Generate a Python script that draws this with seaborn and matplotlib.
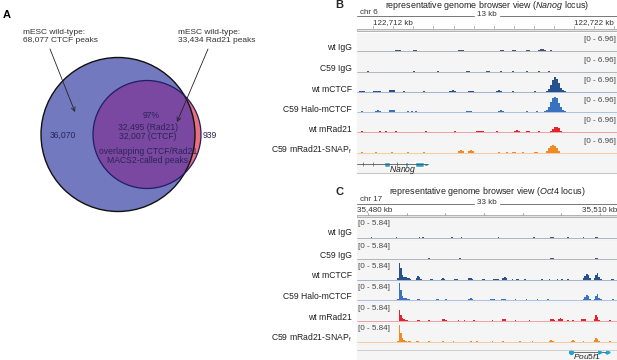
import numpy as np
import pandas as pd
import matplotlib
matplotlib.use("Agg")
import matplotlib.pyplot as plt
from matplotlib.patches import Circle, Rectangle
import seaborn as sns

# ---------------- panel A: Venn diagram text / counts ----------------
ctcf_label = "mESC wild-type:\n68,077 CTCF peaks"
rad21_label = "mESC wild-type:\n33,434 Rad21 peaks"
ctcf_only = "36,070"
rad21_only = "939"
overlap_pct = "97%"
overlap_counts = "32,495 (Rad21)\n32,007 (CTCF)"
overlap_note = "overlapping CTCF/Rad21\nMACS2-called peaks"

# ---------------- browser tracks ----------------
track_names = ["wt IgG", "C59 IgG", "wt mCTCF", "C59 Halo-mCTCF", "wt mRad21",
               r"C59 mRad21-SNAP$_{\rm f}$"]
track_colors = ["#46546b", "#46546b", "#27508f", "#3b72c0", "#e5222a", "#f08a24"]

# panel B: Nanog locus (chr 6), 0.1 kb bins, positions in kb
nanog_start, nanog_end, nanog_bin = 122710.2, 122723.13, 0.1
nanog_range = 6.96
nanog_ticklabels = {122712: "122,712 kb", 122722: "122,722 kb"}

nanog_wt_igg_pos = [122712.15, 122712.25, 122712.35, 122713.05, 122713.15, 122715.25, 122715.35,
                    122715.45, 122717.35, 122717.45, 122717.95, 122718.05, 122718.65, 122718.75,
                    122719.25, 122719.35, 122719.45, 122719.55, 122719.85]
nanog_wt_igg_val = [0.3, 0.4, 0.3, 0.3, 0.3, 0.3, 0.4, 0.3, 0.3, 0.4, 0.3, 0.3, 0.35, 0.35,
                    0.5, 0.8, 0.7, 0.4, 0.3]

nanog_c59_igg_pos = [122710.75, 122713.05, 122714.25, 122715.65, 122715.75, 122716.65, 122716.75,
                     122717.35, 122717.95, 122718.65, 122719.25, 122719.75]
nanog_c59_igg_val = [0.3, 0.3, 0.3, 0.3, 0.3, 0.3, 0.3, 0.3, 0.3, 0.3, 0.3, 0.3]

nanog_wt_ctcf_pos = [122710.35, 122710.45, 122710.55, 122711.05, 122711.15, 122711.25, 122711.35,
                     122711.85, 122711.95, 122712.05, 122712.55, 122713.55, 122714.85, 122714.95,
                     122715.05, 122715.75, 122715.85, 122715.95, 122717.15, 122717.25, 122717.35,
                     122717.95, 122719.05, 122719.65, 122719.75, 122719.85, 122719.95, 122720.05,
                     122720.15, 122720.25, 122720.35, 122720.45, 122720.55]
nanog_wt_ctcf_val = [0.3, 0.4, 0.3, 0.3, 0.4, 0.4, 0.3, 0.5, 0.8, 0.6, 0.3, 0.3, 0.4, 0.6,
                     0.3, 0.3, 0.35, 0.3, 0.35, 0.5, 0.3, 0.3, 0.3, 0.4, 1.2, 2.8, 5.2, 6.3,
                     5.6, 3.6, 1.6, 0.6, 0.3]

nanog_halo_ctcf_pos = [122710.45, 122711.15, 122711.25, 122711.35, 122711.85, 122711.95, 122712.05,
                       122712.75, 122712.95, 122713.15, 122715.65, 122715.75, 122715.85, 122717.25,
                       122717.35, 122717.45, 122718.65, 122719.15, 122719.55, 122719.65, 122719.75,
                       122719.85, 122719.95, 122720.05, 122720.15, 122720.25, 122720.35, 122720.45,
                       122720.55]
nanog_halo_ctcf_val = [0.3, 0.4, 0.7, 0.4, 0.5, 0.7, 0.5, 0.3, 0.3, 0.3, 0.3, 0.35, 0.3, 0.4,
                       0.5, 0.3, 0.3, 0.3, 0.4, 0.8, 2.0, 4.2, 6.1, 6.7, 5.9, 3.9, 1.8, 0.7, 0.3]

nanog_wt_rad21_pos = [122710.45, 122711.35, 122711.65, 122712.15, 122713.65, 122715.05, 122716.15,
                      122716.25, 122716.35, 122716.45, 122717.15, 122718.05, 122718.15, 122718.25,
                      122718.65, 122718.75, 122719.25, 122719.85, 122719.95, 122720.05, 122720.15,
                      122720.25, 122720.35]
nanog_wt_rad21_val = [0.3, 0.25, 0.25, 0.25, 0.3, 0.3, 0.3, 0.45, 0.5, 0.3, 0.3, 0.5, 1.0, 0.6,
                      0.4, 0.4, 0.3, 0.5, 1.3, 2.1, 2.3, 1.6, 0.6]

nanog_snap_rad21_pos = [122710.45, 122711.15, 122711.95, 122712.75, 122713.55, 122715.25, 122715.35,
                        122715.45, 122715.75, 122715.85, 122715.95, 122717.25, 122717.65, 122717.95,
                        122718.05, 122718.45, 122719.05, 122719.15, 122719.65, 122719.75, 122719.85,
                        122719.95, 122720.05, 122720.15, 122720.25]
nanog_snap_rad21_val = [0.3, 0.3, 0.35, 0.35, 0.3, 0.6, 1.0, 0.7, 0.7, 0.9, 0.5, 0.3, 0.35, 0.4,
                        0.3, 0.3, 0.3, 0.3, 0.8, 2.0, 3.0, 3.3, 3.0, 2.0, 0.8]

nanog_exons = [(122711.52, 0.30), (122712.60, 0.13), (122713.09, 0.42)]
nanog_utr = [(122713.51, 0.20)]
nanog_gene_end = 122713.71

# panel C: Oct4 locus (chr 17), 0.2 kb bins
oct4_start, oct4_end, oct4_bin = 35478.6, 35512.2, 0.2
oct4_range = 5.84
oct4_ticklabels = {35480: "35,480 kb", 35510: "35,510 kb"}

oct4_wt_igg_pos = [35480.5, 35483.7, 35486.7, 35487.1, 35490.9, 35492.1, 35493.7, 35496.9,
                   35499.7, 35501.5, 35503.7, 35503.9, 35505.9, 35507.9, 35509.5, 35509.7]
oct4_wt_igg_val = [0.25, 0.3, 0.25, 0.3, 0.3, 0.3, 0.2, 0.25, 0.2, 0.25, 0.4, 0.3, 0.3, 0.3,
                   0.4, 0.3]

oct4_c59_igg_pos = [35485.1, 35487.9, 35490.5, 35491.9, 35494.1, 35497.3, 35500.9, 35503.7,
                    35503.9, 35505.5, 35509.5, 35509.7]
oct4_c59_igg_val = [0.25, 0.3, 0.2, 0.3, 0.2, 0.2, 0.2, 0.45, 0.3, 0.25, 0.45, 0.3]

oct4_wt_ctcf_pos = [35483.9, 35484.1, 35484.3, 35484.5, 35484.7, 35484.9, 35485.1, 35485.3,
                    35485.5, 35486.3, 35486.5, 35486.7, 35486.9, 35488.1, 35488.3, 35489.5,
                    35489.7, 35489.9, 35491.3, 35491.5, 35493.1, 35493.3, 35493.5, 35494.9,
                    35495.1, 35496.3, 35496.5, 35496.7, 35496.9, 35497.5, 35497.7, 35497.9,
                    35498.7, 35499.3, 35499.5, 35500.3, 35502.5, 35503.5, 35504.5, 35505.1,
                    35505.9, 35507.9, 35508.1, 35508.3, 35508.5, 35508.7, 35509.3, 35509.5,
                    35509.7, 35509.9, 35510.1, 35511.5, 35511.7]
oct4_wt_ctcf_val = [0.5, 5.8, 4.0, 1.6, 0.9, 0.8, 0.6, 0.5, 0.3, 0.5, 1.4, 0.8, 0.3, 0.3, 0.3,
                    0.4, 0.5, 0.3, 0.3, 0.3, 0.5, 0.6, 0.3, 0.3, 0.3, 0.3, 0.4, 0.4, 0.3, 0.6,
                    1.0, 0.5, 0.3, 0.3, 0.3, 0.3, 0.3, 0.3, 0.3, 0.3, 0.3, 0.6, 1.2, 2.0, 1.6,
                    0.6, 0.6, 1.6, 2.2, 1.0, 0.4, 0.3, 0.3]

oct4_halo_ctcf_pos = [35483.9, 35484.1, 35484.3, 35484.5, 35484.7, 35484.9, 35485.1, 35485.3,
                      35486.5, 35486.7, 35488.9, 35489.1, 35490.1, 35493.1, 35493.3, 35493.5,
                      35495.9, 35496.1, 35496.3, 35497.3, 35497.5, 35497.7, 35499.1, 35500.5,
                      35501.9, 35503.3, 35507.9, 35508.1, 35508.3, 35508.5, 35508.7, 35509.3,
                      35509.5, 35509.7, 35509.9, 35510.1, 35511.7]
oct4_halo_ctcf_val = [0.4, 5.8, 3.6, 1.4, 0.9, 0.7, 0.5, 0.4, 0.5, 0.4, 0.3, 0.3, 0.3, 0.5, 0.7,
                      0.3, 0.4, 0.5, 0.4, 0.5, 0.6, 0.4, 0.3, 0.3, 0.3, 0.3, 0.5, 1.1, 1.8, 1.3,
                      0.5, 0.5, 1.4, 2.0, 0.9, 0.3, 0.3]

oct4_wt_rad21_pos = [35484.1, 35484.3, 35484.5, 35484.7, 35484.9, 35485.1, 35486.5, 35486.7,
                     35487.9, 35489.7, 35489.9, 35490.1, 35491.7, 35492.5, 35493.7, 35496.1,
                     35497.5, 35497.7, 35499.1, 35500.9, 35503.7, 35503.9, 35504.1, 35504.7,
                     35504.9, 35505.1, 35505.9, 35506.5, 35507.7, 35507.9, 35508.1, 35509.3,
                     35509.5, 35509.7, 35509.9, 35511.3]
oct4_wt_rad21_val = [3.6, 2.0, 0.8, 0.5, 0.4, 0.3, 0.4, 0.4, 0.3, 0.5, 0.6, 0.3, 0.4, 0.4, 0.4,
                     0.3, 0.5, 0.5, 0.3, 0.3, 0.5, 0.6, 0.4, 0.6, 1.0, 0.6, 0.4, 0.4, 0.5, 0.6,
                     0.5, 0.6, 2.1, 1.2, 0.3, 0.3]

oct4_snap_rad21_pos = [35483.9, 35484.1, 35484.3, 35484.5, 35484.7, 35484.9, 35485.3, 35485.5,
                       35486.3, 35486.5, 35487.9, 35489.7, 35491.1, 35493.3, 35494.1, 35496.1,
                       35497.5, 35499.7, 35501.3, 35503.5, 35503.7, 35503.9, 35506.3, 35506.5,
                       35506.7, 35507.9, 35509.3, 35509.5, 35509.7, 35509.9, 35511.3]
oct4_snap_rad21_val = [0.4, 5.4, 3.0, 1.4, 0.8, 0.5, 0.5, 0.4, 0.3, 0.4, 0.3, 0.4, 0.3, 0.4, 0.3,
                       0.3, 0.4, 0.3, 0.3, 0.5, 0.6, 0.4, 0.5, 0.6, 0.4, 0.4, 0.6, 1.5, 0.9, 0.3,
                       0.3]

pou5f1_exons = [(35506.05, 0.3), (35509.1, 0.3), (35509.7, 0.3), (35510.5, 0.4)]
pou5f1_gene = (35506.2, 35511.0)

nanog_tracks = [(nanog_wt_igg_pos, nanog_wt_igg_val), (nanog_c59_igg_pos, nanog_c59_igg_val),
                (nanog_wt_ctcf_pos, nanog_wt_ctcf_val), (nanog_halo_ctcf_pos, nanog_halo_ctcf_val),
                (nanog_wt_rad21_pos, nanog_wt_rad21_val), (nanog_snap_rad21_pos, nanog_snap_rad21_val)]
oct4_tracks = [(oct4_wt_igg_pos, oct4_wt_igg_val), (oct4_c59_igg_pos, oct4_c59_igg_val),
               (oct4_wt_ctcf_pos, oct4_wt_ctcf_val), (oct4_halo_ctcf_pos, oct4_halo_ctcf_val),
               (oct4_wt_rad21_pos, oct4_wt_rad21_val), (oct4_snap_rad21_pos, oct4_snap_rad21_val)]

# ---------------- layout (pixels) ----------------
W, H = 617, 360
sns.set_theme(style="white")
plt.rcParams["font.family"] = ["Liberation Sans", "DejaVu Sans"]
plt.rcParams["mathtext.fontset"] = "custom"
plt.rcParams["mathtext.rm"] = "Liberation Sans"
plt.rcParams["mathtext.it"] = "Liberation Sans:italic"

fig = plt.figure(figsize=(W / 100, H / 100), dpi=100)
fig.patch.set_facecolor("white")


def box(x0, y0, x1, y1):
    return [x0 / W, 1 - y1 / H, (x1 - x0) / W, (y1 - y0) / H]


TXT = "#333333"

# ---------------- panel A ----------------
axA = fig.add_axes(box(0, 0, 330, 360))
axA.set_xlim(0, 330)
axA.set_ylim(360, 0)
axA.axis("off")

big = Circle((118, 134.5), 77, facecolor="#7279bf", edgecolor="none", zorder=2)
small_red = Circle((147, 134.5), 54, facecolor="#e8707a", edgecolor="none", zorder=1)
axA.add_patch(small_red)
axA.add_patch(big)
small_purple = Circle((147, 134.5), 54, facecolor="#7a48a0", edgecolor="none", zorder=3)
axA.add_patch(small_purple)
small_purple.set_clip_path(big)
axA.add_patch(Circle((118, 134.5), 77, facecolor="none", edgecolor="#111111", lw=1.0, zorder=4))
axA.add_patch(Circle((147, 134.5), 54, facecolor="none", edgecolor="#201c66", lw=0.9, zorder=5))

axA.text(3, 15, "A", fontsize=8, fontweight="bold", ha="left", va="center", color="black")
axA.text(23, 36.5, ctcf_label, fontsize=6, ha="left", va="center", color=TXT, linespacing=1.15)
axA.text(178, 36.5, rad21_label, fontsize=6, ha="left", va="center", color=TXT, linespacing=1.15)
arrow = dict(arrowstyle="->", lw=0.6, color="#222222", mutation_scale=7, shrinkA=0, shrinkB=0)
axA.annotate("", xy=(75, 112), xytext=(50, 49), arrowprops=arrow, zorder=6)
axA.annotate("", xy=(177, 122), xytext=(208, 49), arrowprops=arrow, zorder=6)

INK = "#2b2358"
axA.text(63, 135, ctcf_only, fontsize=6.2, ha="center", va="center", color=INK, zorder=6)
axA.text(203, 135, rad21_only, fontsize=6.2, ha="left", va="center", color=INK, zorder=6)
axA.text(151, 115, overlap_pct, fontsize=6.2, ha="center", va="center", color=INK, zorder=6)
axA.text(148, 132, overlap_counts, fontsize=6.2, ha="center", va="center", color=INK,
         linespacing=1.1, zorder=6)
axA.text(148, 156, overlap_note, fontsize=6.2, ha="center", va="center", color=INK,
         linespacing=1.1, zorder=6)

# ---------------- genome browser panels ----------------
X0, X1 = 357, 617


def setup_track(ax, lo, hi, rng, base_px, top_px, h_px):
    scale = rng / (h_px - base_px - top_px)
    ax.set_xlim(lo, hi)
    ax.set_ylim(-base_px * scale, rng + top_px * scale)
    ax.set_facecolor("#f5f5f5")
    ax.set_xticks([])
    ax.set_yticks([])
    ax.set_xlabel("")
    ax.set_ylabel("")
    for s in ["top", "left", "right"]:
        ax.spines[s].set_visible(False)
    ax.spines["bottom"].set_color("#c8c8c8")
    ax.spines["bottom"].set_linewidth(0.8)


def panel(letter, title, y_title, lo, hi, bw, rng, tracks, rows, gene_row, range_left,
          chrom, span, ticklabels, tick_step, ruler_y, base_px, top_px):
    fig.text(335 / W, 1 - y_title / H, letter, fontsize=8, fontweight="bold",
             ha="left", va="center")
    fig.text(487 / W, 1 - y_title / H, title, fontsize=6.4, ha="center", va="center",
             color="#222222")
    # ruler
    y_chr, y_span, y_lab, y_band = ruler_y
    axr = fig.add_axes(box(X0, y_chr - 5, X1, y_band + 2))
    axr.set_xlim(lo, hi)
    axr.set_ylim(y_band + 2, y_chr - 5)
    axr.axis("off")
    axr.text(lo + (hi - lo) * 0.012, y_chr, chrom, fontsize=5.8, ha="left", va="center", color=TXT)
    mid = lo + (hi - lo) * 0.5
    gap = (hi - lo) * 0.05
    axr.plot([lo, mid - gap], [y_span, y_span], color="#777777", lw=0.7)
    axr.plot([mid + gap, hi], [y_span, y_span], color="#777777", lw=0.7)
    axr.text(mid, y_span - 1, span, fontsize=5.8, ha="center", va="center", color=TXT)
    for t in np.arange(np.ceil(lo / tick_step) * tick_step, hi, tick_step):
        axr.plot([t, t], [y_band - 3.5, y_band - 1], color="#888888", lw=0.5)
    for t, lab in ticklabels.items():
        ha = "center"
        x = t
        if t - lo < (hi - lo) * 0.08:
            ha, x = "left", lo
        if hi - t < (hi - lo) * 0.08:
            ha, x = "right", hi
        axr.text(x, y_lab, lab, fontsize=5.8, ha=ha, va="center", color=TXT)
    axr.add_patch(Rectangle((lo, y_band - 1), hi - lo, 2, facecolor="#e2e2e2",
                            edgecolor="#9a9a9a", lw=0.5))
    # data tracks
    bins = list(np.arange(lo, hi + bw, bw))
    for (pos, val), name, color, (r0, r1) in zip(tracks, track_names, track_colors, rows):
        ax = fig.add_axes(box(X0, r0, X1, r1))
        df = pd.DataFrame({"pos": pos, "signal": val})
        sns.histplot(data=df, x="pos", weights="signal", bins=bins, element="step", fill=True,
                     color=color, alpha=1, linewidth=0, ax=ax)
        ax.axhline(0, color=color, lw=0.5, alpha=0.55)
        setup_track(ax, lo, hi, rng, base_px, top_px, r1 - r0)
        rlab = f"[0 - {rng:.2f}]"
        if range_left:
            ax.text(0.004, 1 - 1.5 / (r1 - r0), rlab, transform=ax.transAxes, fontsize=5.8,
                    ha="left", va="top", color="#444444")
        else:
            ax.text(0.996, 1 - 2.5 / (r1 - r0), rlab, transform=ax.transAxes, fontsize=5.8,
                    ha="right", va="top", color="#444444")
        fig.text(352 / W, 1 - (r0 + 14) / H, name, fontsize=6.2, ha="right", va="center",
                 color="#222222")
    # gene row
    g0, g1 = gene_row
    axg = fig.add_axes(box(X0, g0, X1, g1))
    axg.set_xlim(lo, hi)
    axg.set_ylim(g1, g0)
    axg.set_facecolor("#f5f5f5")
    axg.set_xticks([])
    axg.set_yticks([])
    for s in ["top", "left", "right"]:
        axg.spines[s].set_visible(False)
    axg.spines["bottom"].set_color("#c8c8c8")
    axg.spines["bottom"].set_linewidth(0.8)
    return axg


axB = panel("B", r"representative genome browser view ($\it{Nanog}$ locus)", 5,
            nanog_start, nanog_end, nanog_bin, nanog_range, nanog_tracks,
            [(33.3, 54.3), (54.3, 75), (75, 95), (95, 115), (115, 135.5), (135.5, 156)],
            (156, 173), False, "chr 6", "13 kb", nanog_ticklabels, 1, (12, 16, 23, 29.5),
            3.5, 1.0)
gy = 164.3
axB.plot([nanog_start, nanog_gene_end], [gy, gy], color="#555555", lw=0.6)
axB.plot([nanog_start + 0.3, nanog_start + 0.8, nanog_start + 2.0], [gy] * 3, ls="none",
         marker="|", ms=2.5, mew=0.5, color="#555555")
axB.broken_barh(nanog_exons, (gy - 2.3, 4.6), facecolor="#1fa3cf")
axB.broken_barh(nanog_utr, (gy - 1.4, 2.8), facecolor="#1fa3cf")
axB.text(122712.45, 170, r"$\it{Nanog}$", fontsize=6.2, ha="center", va="center", color="#222222")

axC = panel("C", r"representative genome browser view ($\it{Oct4}$ locus)", 192,
            oct4_start, oct4_end, oct4_bin, oct4_range, oct4_tracks,
            [(218.3, 241), (241, 262), (262, 282.5), (282.5, 303), (303, 323.5), (323.5, 345)],
            (345, 362), True, "chr 17", "33 kb", oct4_ticklabels, 5, (199.5, 204, 210, 216.5),
            2.7, 0.5)
gy = 352.3
axC.plot(list(pou5f1_gene), [gy, gy], color="#555555", lw=0.6)
axC.broken_barh(pou5f1_exons, (gy - 1.8, 3.6), facecolor="#1fa3cf")
axC.plot([pou5f1_gene[0]], [gy], marker="o", ms=2.8, color="#1fa3cf")
axC.plot([35509.95, 35511.0], [gy, gy], ls="none", marker=">", ms=2.5, color="#1fa3cf")
axC.text(35508.3, 356.3, r"$\it{Pou5f1}$", fontsize=6.0, ha="center", va="center", color="#222222")
axC.axhline(350, color="#c8c8c8", lw=0.6)

fig.savefig("out.png", dpi=100)
